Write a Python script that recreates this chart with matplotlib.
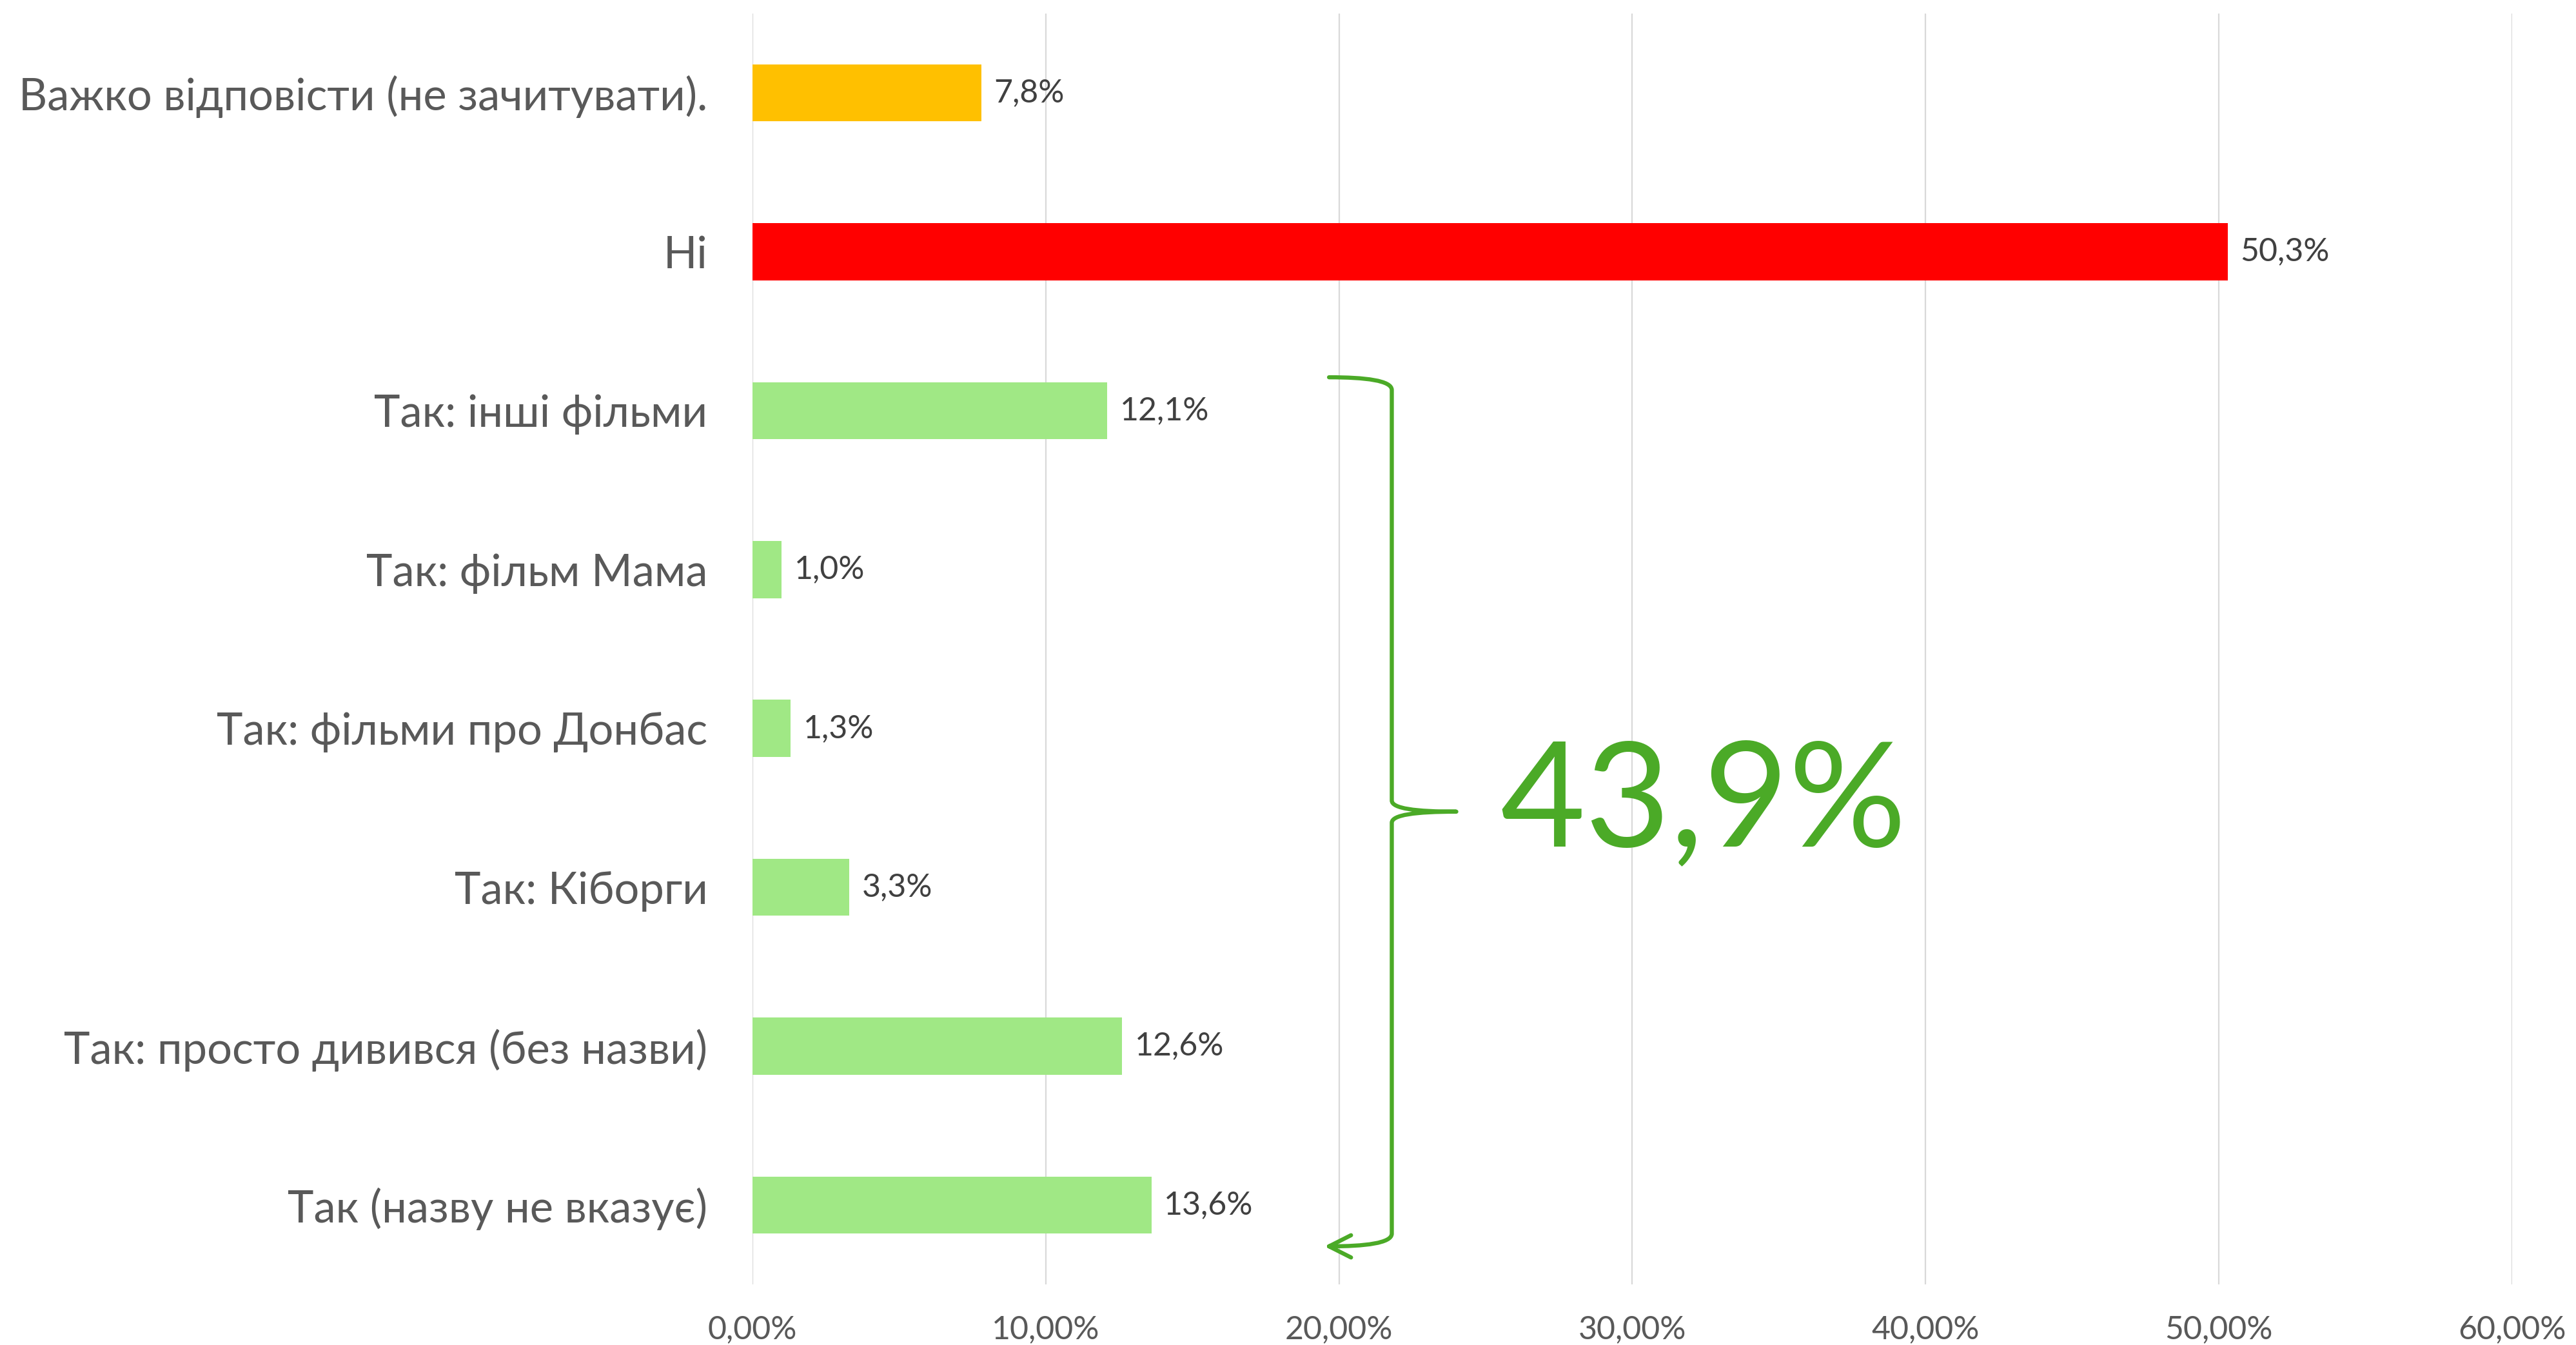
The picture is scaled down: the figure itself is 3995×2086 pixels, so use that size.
import matplotlib
matplotlib.use("Agg")
import matplotlib.pyplot as plt
from matplotlib.path import Path
from matplotlib.patches import PathPatch

plt.rcParams["font.family"] = ["Lato", "DejaVu Sans"]

categories = [
    "Так (назву не вказує)",
    "Так: просто дивився (без назви)",
    "Так: Кіборги",
    "Так: фільми про Донбас",
    "Так: фільм Мама",
    "Так: інші фільми",
    "Ні",
    "Важко відповісти (не зачитувати).",
]
values = [13.6, 12.6, 3.3, 1.3, 1.0, 12.1, 50.3, 7.8]
colors = ["#A0E885"] * 6 + ["#FF0000", "#FFC000"]
xticks = [0, 10, 20, 30, 40, 50, 60]

green_total = sum(values[:6])
BRACE = "#4BAA27"

fig = plt.figure(figsize=(19.975, 10.43), dpi=200)
ax = fig.add_axes([0.2921, 0.045, 0.6831, 0.945])

y = list(range(len(categories)))
ax.barh(y, values, height=0.36, color=colors, zorder=3)

for yi, v in zip(y, values):
    ax.annotate(f"{v:.1f}%".replace(".", ","), (v, yi), xytext=(7, 0),
                textcoords="offset points", va="center", ha="left",
                fontsize=18, color="#404040")

ax.set_xlim(0, 60)
ax.set_ylim(-0.5, len(categories) - 0.5)
ax.set_xticks(xticks)
ax.set_xticklabels([f"{t},00%" for t in xticks], fontsize=18, color="#595959")
ax.set_yticks(y)
ax.set_yticklabels(categories, fontsize=24.7, color="#595959")
ax.tick_params(axis="both", length=0)
ax.tick_params(axis="y", pad=25)
ax.tick_params(axis="x", pad=17)
ax.grid(axis="x", color="#D9D9D9", linewidth=0.8, zorder=0)
for s in ax.spines.values():
    s.set_visible(False)

# curly brace over the "Так" answers
x0, xv, xt = 19.66, 21.8, 24.0
top, mid, bot = 5.21, 2.476, -0.26
verts = [
    (x0, top), (20.9, top), (xv, top - 0.02), (xv, top - 0.08),
    (xv, mid + 0.07),
    (xv, mid + 0.02), (22.6, mid), (xt, mid),
    (22.6, mid), (xv, mid - 0.02), (xv, mid - 0.07),
    (xv, bot + 0.08),
    (xv, bot + 0.02), (20.9, bot), (x0, bot),
    (x0 + 0.75, bot + 0.07), (x0, bot), (x0 + 0.75, bot - 0.07),
]
codes = [
    Path.MOVETO, Path.CURVE4, Path.CURVE4, Path.CURVE4,
    Path.LINETO,
    Path.CURVE4, Path.CURVE4, Path.CURVE4,
    Path.CURVE4, Path.CURVE4, Path.CURVE4,
    Path.LINETO,
    Path.CURVE4, Path.CURVE4, Path.CURVE4,
    Path.MOVETO, Path.LINETO, Path.LINETO,
]
ax.add_patch(PathPatch(Path(verts, codes), facecolor="none", edgecolor=BRACE,
                       linewidth=2.3, capstyle="round", joinstyle="round", zorder=4))

ax.text(25.5, 2.52, f"{green_total:.1f}%".replace(".", ","), fontsize=82,
        color=BRACE, ha="left", va="center")

fig.savefig("out.png", dpi=200, facecolor="white")
